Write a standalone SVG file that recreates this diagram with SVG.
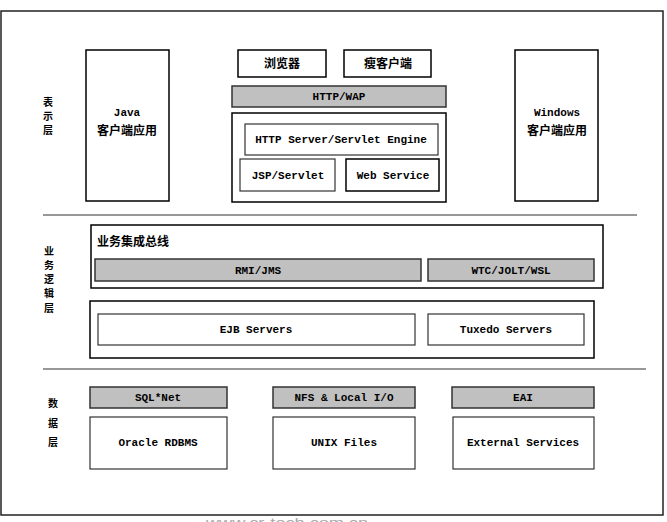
<svg xmlns="http://www.w3.org/2000/svg" width="667" height="522" viewBox="0 0 667 522">
<style>
.box{fill:#fff;stroke:#000;stroke-width:1.5}
.in{fill:#fff;stroke:#333;stroke-width:1.2}
.bar{fill:#c0c0c0;stroke:#333;stroke-width:1.5}
.en{font-family:"Liberation Mono","Noto Sans CJK SC",monospace;font-weight:bold;font-size:11px;fill:#000;text-anchor:middle}
.zh{font-family:"Noto Sans CJK SC","Liberation Sans",sans-serif;font-weight:bold;font-size:12px;fill:#000;text-anchor:middle}
.lbl{font-family:"Noto Sans CJK SC","Liberation Sans",sans-serif;font-weight:bold;font-size:10px;fill:#000;text-anchor:middle}
.div{stroke:#333;stroke-width:1.2}
</style>
<rect x="1" y="11" width="662" height="504" fill="#fff" stroke="#222" stroke-width="1.5"/>
<g id="connectors">
<line class="div" x1="43" y1="215" x2="637" y2="215"/>
<line class="div" x1="43" y1="369" x2="646" y2="369"/>
</g>
<g id="label-presentation">
<text class="lbl" x="48" y="106">表</text>
<text class="lbl" x="48" y="120">示</text>
<text class="lbl" x="48" y="134">层</text>
</g>
<g id="label-business">
<text class="lbl" x="49" y="255">业</text>
<text class="lbl" x="49" y="269">务</text>
<text class="lbl" x="49" y="283">逻</text>
<text class="lbl" x="49" y="297">辑</text>
<text class="lbl" x="49" y="312">层</text>
</g>
<g id="label-data">
<text class="lbl" x="53" y="407">数</text>
<text class="lbl" x="53" y="427">据</text>
<text class="lbl" x="53" y="446">层</text>
</g>
<g id="java-client">
<rect class="box" x="86" y="50" width="83" height="151"/>
<text class="en" x="127" y="116">Java</text>
<text class="zh" x="127" y="135">客户端应用</text>
</g>
<g id="windows-client">
<rect class="box" x="515" y="50" width="83" height="151"/>
<text class="en" x="557" y="116">Windows</text>
<text class="zh" x="557" y="135">客户端应用</text>
</g>
<g id="browser">
<rect class="box" x="238" y="50" width="88" height="27"/>
<text class="zh" x="282" y="68">浏览器</text>
</g>
<g id="thin-client">
<rect class="box" x="344" y="50" width="87" height="27"/>
<text class="zh" x="388" y="68">瘦客户端</text>
</g>
<g id="http-wap">
<rect class="bar" x="232" y="86" width="214" height="21"/>
<text class="en" x="339" y="100">HTTP/WAP</text>
</g>
<g id="web-container">
<rect class="box" x="232" y="113" width="214" height="89"/>
</g>
<g id="http-server">
<rect class="in" x="245" y="124" width="193" height="31"/>
<text class="en" x="341" y="143">HTTP Server/Servlet Engine</text>
</g>
<g id="jsp-servlet">
<rect class="in" x="240" y="159" width="95" height="32"/>
<text class="en" x="288" y="179">JSP/Servlet</text>
</g>
<g id="web-service">
<rect class="box" x="346" y="159" width="93" height="32"/>
<text class="en" x="393" y="179">Web Service</text>
</g>
<g id="integration-bus">
<rect class="box" x="91" y="225" width="512" height="63"/>
<text class="zh" x="97" y="246" style="text-anchor:start">业务集成总线</text>
</g>
<g id="rmi-jms">
<rect class="bar" x="95" y="259" width="326" height="22"/>
<text class="en" x="258" y="274">RMI/JMS</text>
</g>
<g id="wtc-jolt-wsl">
<rect class="bar" x="428" y="259" width="166" height="22"/>
<text class="en" x="511" y="274">WTC/JOLT/WSL</text>
</g>
<g id="servers">
<rect class="box" x="90" y="301" width="504" height="57"/>
</g>
<g id="ejb-servers">
<rect class="in" x="98" y="314" width="317" height="31"/>
<text class="en" x="256" y="333">EJB Servers</text>
</g>
<g id="tuxedo-servers">
<rect class="in" x="428" y="314" width="156" height="31"/>
<text class="en" x="506" y="333">Tuxedo Servers</text>
</g>
<g id="sqlnet">
<rect class="bar" x="90" y="387" width="137" height="21"/>
<text class="en" x="158" y="401">SQL*Net</text>
</g>
<g id="nfs">
<rect class="bar" x="273" y="387" width="142" height="21"/>
<text class="en" x="344" y="401">NFS &amp; Local I/O</text>
</g>
<g id="eai">
<rect class="bar" x="452" y="387" width="142" height="21"/>
<text class="en" x="523" y="401">EAI</text>
</g>
<g id="oracle">
<rect class="in" x="90" y="417" width="137" height="52"/>
<text class="en" x="158" y="446">Oracle RDBMS</text>
</g>
<g id="unix-files">
<rect class="in" x="273" y="417" width="142" height="52"/>
<text class="en" x="344" y="446">UNIX Files</text>
</g>
<g id="external-services">
<rect class="in" x="453" y="417" width="141" height="52"/>
<text class="en" x="523" y="446">External Services</text>
</g>
<text x="206" y="527" font-family="Liberation Sans,sans-serif" font-size="13" fill="#aaa" textLength="162" lengthAdjust="spacingAndGlyphs">www.cr-tech.com.cn</text>
</svg>
